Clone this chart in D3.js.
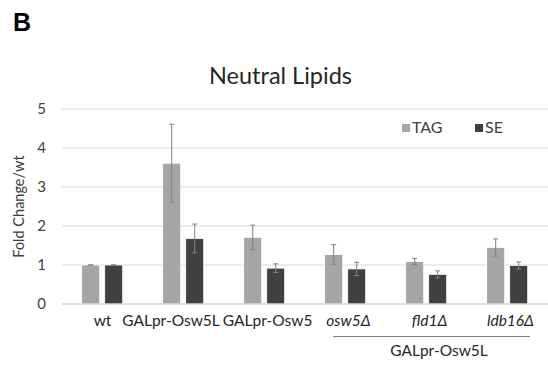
<!DOCTYPE html>
<html>
<head>
<meta charset="utf-8">
<script src="https://cdn.jsdelivr.net/npm/d3@7"></script>
<style>
  html, body { margin: 0; padding: 0; background: #fff; }
  svg { display: block; font-family: Lato, "Open Sans", sans-serif; }
</style>
</head>
<body>
<svg id="chart" width="548" height="365"></svg>
<script>
// Strains and their fold-change values relative to wild type
const strains = ["wt", "GALpr-Osw5L", "GALpr-Osw5", "osw5Δ", "fld1Δ", "ldb16Δ"];
const italicStrains = ["osw5Δ", "fld1Δ", "ldb16Δ"];
const series = ["TAG", "SE"];
const tagValues = [1.0, 3.61, 1.71, 1.27, 1.09, 1.45];
const tagErrors = [0.0, 1.0, 0.31, 0.25, 0.08, 0.22];
const seValues = [1.0, 1.68, 0.92, 0.90, 0.76, 0.99];
const seErrors = [0.0, 0.37, 0.11, 0.17, 0.09, 0.09];
const yTicks = [0, 1, 2, 3, 4, 5];
const groupLabel = "GALpr-Osw5L";

const colors = { TAG: "#a5a5a5", SE: "#404040" };

const svg = d3.select("#chart");
const margin = { left: 62, right: 0, top: 109, bottom: 61 };
const W = 548, H = 365;

const x = d3.scaleBand().domain(strains).range([margin.left, W - margin.right]);
const xInner = d3.scaleBand().domain(series).range([19.7, 60.7]).paddingInner(5 / 23);
const y = d3.scaleLinear().domain([0, 5]).range([H - margin.bottom, margin.top]);

// Gridlines
svg.append("g")
  .selectAll("line")
  .data(yTicks)
  .join("line")
  .attr("x1", margin.left).attr("x2", W - margin.right)
  .attr("y1", d => y(d)).attr("y2", d => y(d))
  .attr("stroke", "#d9d9d9").attr("stroke-width", 1.2);

// Y axis labels
const yAxis = d3.axisLeft(y).tickValues(yTicks).tickSize(0).tickPadding(0).tickFormat(d3.format("d"));
svg.append("g")
  .attr("transform", `translate(${margin.left - 16},0)`)
  .call(yAxis)
  .call(g => g.select(".domain").remove())
  .call(g => g.selectAll("text").attr("font-size", 15).attr("fill", "#404040")
    .attr("font-family", "Lato, sans-serif"));

// Y axis title
svg.append("text")
  .attr("transform", `translate(23.5,${(y(0) + y(5)) / 2}) rotate(-90)`)
  .attr("text-anchor", "middle")
  .attr("font-size", 14.5)
  .attr("fill", "#404040")
  .text("Fold Change/wt");

// Bars
const rows = strains.map((s, i) => ({
  strain: s,
  vals: [
    { key: "TAG", v: tagValues[i], e: tagErrors[i] },
    { key: "SE", v: seValues[i], e: seErrors[i] }
  ]
}));

const groups = svg.append("g").selectAll("g")
  .data(rows).join("g")
  .attr("transform", d => `translate(${x(d.strain)},0)`);

groups.selectAll("rect")
  .data(d => d.vals).join("rect")
  .attr("x", d => xInner(d.key))
  .attr("width", xInner.bandwidth())
  .attr("y", d => y(d.v))
  .attr("height", d => y(0) - y(d.v))
  .attr("fill", d => colors[d.key])
  .attr("stroke", "#ffffff").attr("stroke-width", 0.8);

// Error bars
const eb = groups.selectAll("g.err")
  .data(d => d.vals).join("g").attr("class", "err")
  .attr("transform", d => `translate(${xInner(d.key) + xInner.bandwidth() / 2},0)`);
eb.append("line")
  .attr("y1", d => y(d.v + d.e)).attr("y2", d => y(d.v - d.e))
  .attr("stroke", "#808080").attr("stroke-width", 1);
eb.selectAll("line.cap")
  .data(d => [d.v + d.e, d.v - d.e]).join("line").attr("class", "cap")
  .attr("x1", -2.5).attr("x2", 2.5)
  .attr("y1", d => y(d)).attr("y2", d => y(d))
  .attr("stroke", "#808080").attr("stroke-width", 1);

// Baseline
svg.append("line")
  .attr("x1", margin.left).attr("x2", W - margin.right)
  .attr("y1", y(0)).attr("y2", y(0))
  .attr("stroke", "#d0d0d0").attr("stroke-width", 1.2);

// X labels, centred on each band, then nudged apart where neighbours collide
const xLabels = svg.append("g").selectAll("text")
  .data(strains).join("text")
  .attr("x", d => x(d) + x.bandwidth() / 2 + (italicStrains.includes(d) ? 3 : 0))
  .attr("y", y(0) + 21.5)
  .attr("text-anchor", "middle")
  .attr("font-size", 15.5)
  .attr("font-style", d => italicStrains.includes(d) ? "italic" : "normal")
  .attr("fill", "#262626")
  .text(d => d);

const labelNodes = xLabels.nodes();
const centres = labelNodes.map(n => +n.getAttribute("x"));
const widths = labelNodes.map(n => n.getComputedTextLength());
for (let i = 0; i < labelNodes.length - 1; i++) {
  const overlap = (centres[i] + widths[i] / 2 + 3) - (centres[i + 1] - widths[i + 1] / 2);
  if (overlap > 0) {
    centres[i] -= overlap * 0.8;
    centres[i + 1] += overlap * 0.2;
  }
}
xLabels.attr("x", (d, i) => centres[i]);

// Bracket under the deletion strains
const bx1 = x(italicStrains[0]) + 28, bx2 = x(italicStrains[2]) + x.bandwidth() - 18;
svg.append("line")
  .attr("x1", bx1).attr("x2", bx2)
  .attr("y1", 336.5).attr("y2", 336.5)
  .attr("stroke", "#808080").attr("stroke-width", 1);
svg.append("text")
  .attr("x", x(italicStrains[1]) + x.bandwidth() / 2 + 12.5)
  .attr("y", 356)
  .attr("text-anchor", "middle")
  .attr("font-size", 15.5)
  .attr("fill", "#262626")
  .text(groupLabel);

// Legend
const legendX = [402, 475];
const legend = svg.append("g").selectAll("g")
  .data(series).join("g")
  .attr("transform", (d, i) => `translate(${legendX[i]},124)`);
legend.append("rect")
  .attr("width", 8).attr("height", 8)
  .attr("fill", d => colors[d]);
legend.append("text")
  .attr("x", 10).attr("y", 8.8)
  .attr("font-size", 16)
  .attr("fill", "#404040")
  .text(d => d);

// Title
svg.append("text")
  .attr("x", 280.5).attr("y", 84)
  .attr("text-anchor", "middle")
  .attr("font-size", 23.5)
  .attr("fill", "#262626")
  .text("Neutral Lipids");

// Panel letter
svg.append("text")
  .attr("x", 13).attr("y", 31)
  .attr("font-size", 25)
  .attr("font-weight", "bold")
  .attr("font-family", "'Liberation Sans', Arial, sans-serif")
  .attr("fill", "#000")
  .text("B");
</script>
</body>
</html>
